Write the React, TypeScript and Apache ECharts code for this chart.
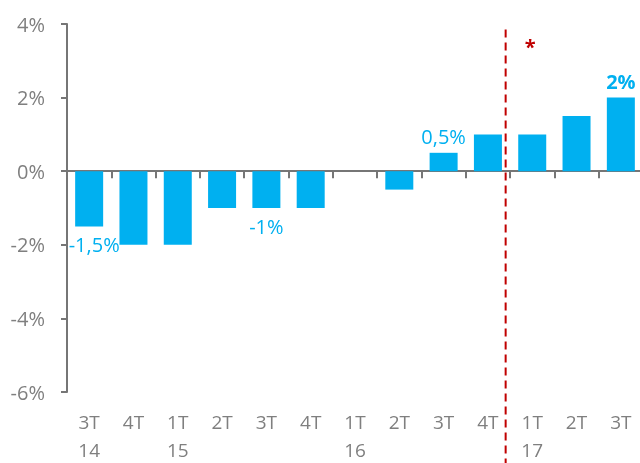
import React, { useEffect, useRef } from "react";
import * as echarts from "echarts";

const quarters = ["3T\n14", "4T", "1T\n15", "2T", "3T", "4T", "1T\n16", "2T", "3T", "4T", "1T\n17", "2T", "3T"];
const values = [-1.5, -2, -2, -1, -1, -1, 0, -0.5, 0.5, 1, 1, 1.5, 2];
const dataLabels = ["-1,5%", "", "", "", "-1%", "", "", "", "0,5%", "", "", "", "2%"];
const boldLabels = [false, false, false, false, false, false, false, false, false, false, false, false, true];
const yMin = -6;
const yMax = 4;
const yInterval = 2;
const dividerAfterIndex = 9;
const noteText = "*";
const noteIndex = 10;
const noteValue = 3.4;

const FONT = "'Open Sans', 'Noto Sans', sans-serif";
const GRAY = "#7f7f7f";
const AXIS = "#767676";
const BLUE = "#00B0F0";
const RED = "#C00000";

export default function App() {
  const ref = useRef<HTMLDivElement>(null);
  useEffect(() => {
    if (!ref.current) return;
    const chart = echarts.init(ref.current, undefined, { renderer: "svg" });
    const option: any = {
      animation: false,
      grid: { left: 67, top: 24, width: 576, height: 368, containLabel: false, outerBoundsMode: "none" },
      xAxis: [
        {
          type: "category",
          data: quarters,
          axisLine: { onZero: true, lineStyle: { color: AXIS, width: 2 } },
          axisTick: { show: true, length: 7, lineStyle: { color: AXIS, width: 2 } },
          axisLabel: { show: false },
        },
        {
          type: "category",
          data: quarters,
          position: "bottom",
          axisLine: { show: false, onZero: false },
          axisTick: { show: false },
          axisLabel: {
            interval: 0,
            hideOverlap: false,
            color: GRAY,
            fontSize: 19,
            fontFamily: FONT,
            margin: 14,
            align: "center",
            formatter: (v: string) => {
              const parts = v.split("\n");
              return parts.length > 1 ? `{a|${parts[0]}}\n{b|${parts[1]}}` : `{a|${parts[0]}}`;
            },
            rich: {
              a: { color: GRAY, fontSize: 19, fontFamily: FONT, lineHeight: 32 },
              b: { color: GRAY, fontSize: 19, fontFamily: FONT, lineHeight: 24 },
            },
          },
        },
      ],
      yAxis: {
        type: "value",
        min: yMin,
        max: yMax,
        interval: yInterval,
        splitLine: { show: false },
        axisLine: { show: true, lineStyle: { color: AXIS, width: 2 } },
        axisTick: { show: true, length: 6, lineStyle: { color: AXIS, width: 2 } },
        axisLabel: {
          color: GRAY,
          fontSize: 20,
          fontFamily: FONT,
          margin: 22,
          formatter: (v: number) => `${v}%`,
        },
      },
      series: [
        {
          type: "bar",
          xAxisIndex: 0,
          barWidth: 28,
          itemStyle: { color: BLUE },
          data: values.map((v, i) => ({
            value: v,
            label: {
              show: dataLabels[i] !== "",
              formatter: dataLabels[i],
              position: v < 0 ? "bottom" : "top",
              distance: v < 0 ? 8 : 6,
              offset: i === 0 ? [5, 0] : [0, 0],
              color: BLUE,
              fontSize: 20,
              fontFamily: FONT,
              fontWeight: boldLabels[i] ? "bold" : "normal",
            },
          })),
        },
      ],
    };
    chart.setOption(option);
    const xa = chart.convertToPixel({ xAxisIndex: 0 }, dividerAfterIndex) as number;
    const xb = chart.convertToPixel({ xAxisIndex: 0 }, dividerAfterIndex + 1) as number;
    const lineX = xa + (xb - xa) * 0.4;
    const lineTop = chart.convertToPixel({ yAxisIndex: 0 }, 3.85) as number;
    const starX = chart.convertToPixel({ xAxisIndex: 0 }, noteIndex) as number;
    const starY = chart.convertToPixel({ yAxisIndex: 0 }, noteValue) as number;
    chart.setOption({
      graphic: [
        {
          type: "line",
          shape: { x1: lineX, y1: lineTop, x2: lineX, y2: chart.getHeight() },
          style: { stroke: RED, lineWidth: 2, lineDash: [8, 5] },
          z: 10,
        },
        {
          type: "text",
          x: starX - 2,
          y: starY,
          style: {
            text: noteText,
            fill: RED,
            font: `bold 20px ${FONT}`,
            textAlign: "center",
            textVerticalAlign: "middle",
          },
        },
      ],
    });
    return () => chart.dispose();
  }, []);
  return <div ref={ref} style={{ position: "fixed", left: 0, top: 0, width: 640, height: 463 }} />;
}
